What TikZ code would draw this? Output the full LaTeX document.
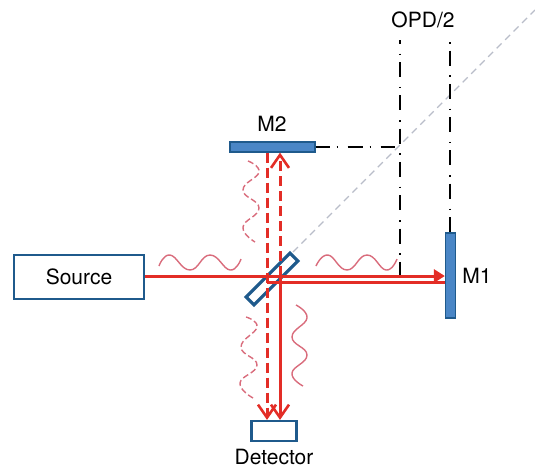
\documentclass[tikz,border=0pt]{standalone}
\usepackage{fontspec}
\setmainfont{TeX Gyre Heros}
\usepackage{tikz}
\usetikzlibrary{arrows.meta}
\definecolor{beamred}{HTML}{E32D26}
\definecolor{wavepink}{HTML}{D96C7C}
\definecolor{boxblue}{HTML}{1F5A8C}
\definecolor{mirrorblue}{HTML}{4A86C6}
\definecolor{axisgray}{HTML}{B9BDC9}
\tikzstyle{labeltext} = [inner sep = 0pt, font = \fontsize{21}{25}\selectfont, text = black]
\tikzstyle{outlinebox} = [rectangle, inner sep = 0pt, draw = boxblue, line width = 2.2pt, fill = white]
\tikzstyle{mirror} = [rectangle, inner sep = 0pt, draw = boxblue, line width = 1.2pt, fill = mirrorblue]
\tikzstyle{splitter} = [rectangle, inner sep = 0pt, minimum width = 62pt, minimum height = 11pt, draw = boxblue, line width = 3.2pt]
\tikzstyle{beam} = [draw = beamred, line width = 3pt]
\tikzstyle{beamdash} = [beam, dash pattern = on 10pt off 5pt]
\tikzstyle{openhead} = [-{Straight Barb[length = 13pt, width = 18pt, line width = 2.6pt]}]
\tikzstyle{solidhead} = [-{Triangle[length = 11pt, width = 13pt]}]
\tikzstyle{wave} = [draw = wavepink, line width = 1.4pt]
\tikzstyle{wavedash} = [wave, dash pattern = on 6pt off 3pt]
\tikzstyle{opdline} = [draw = black, line width = 1.6pt]
\tikzstyle{axisline} = [draw = axisgray, line width = 1.3pt, dash pattern = on 7pt off 5pt]

\begin{document}
\begin{tikzpicture}[x = 1pt, y = -1pt]
\useasboundingbox (0,0) rectangle (535,467);

\node(Source)[outlinebox, minimum width = 130pt, minimum height = 44pt] at (79,277) {};
\node(Detector)[outlinebox, minimum width = 45pt, minimum height = 20pt] at (274,431) {};
\node(Mtwo)[mirror, minimum width = 85pt, minimum height = 10pt] at (272.5,147) {};
\node(Mone)[mirror, minimum width = 10pt, minimum height = 85pt] at (450.5,275.5) {};
\node(Sourcetext)[labeltext] at (79,277) {Source};
\node(Detectortext)[labeltext] at (274,456.5) {Detector};
\node(Mtwotext)[labeltext] at (272,124) {M2};
\node(Monetext)[labeltext] at (477,276) {M1};
\node(Opdtext)[labeltext] at (423,20) {OPD/2};

\coordinate (axisend) at (535,10);
\coordinate (axisstart) at (293,252);
\coordinate (opdleft) at (400,40);
\coordinate (opdright) at (450,42);
\coordinate (opdcorner) at (395,147);
\coordinate (opdfoot) at (400,276);
\coordinate (inright) at (280,276);
\coordinate (inleft) at (267,282);

\draw [axisline] (axisstart) -- (axisend);
\node(Splitter)[splitter, rotate = 45] at (272,279) {};

\draw [opdline, dash pattern = on 15pt off 9.8pt on 1.5pt off 7pt, dash phase = 11.3pt] (opdleft) -- (opdfoot);
\draw [opdline, dash pattern = on 1.5pt off 7pt on 15pt off 9.8pt] (opdright) -- (opdright |- Mone.north);
\draw [opdline, dash pattern = on 15pt off 7pt on 1.5pt off 9.5pt, dash phase = 1pt] (Mtwo.east) -- (opdcorner);

\draw [beam] (Source.east |- opdfoot) -- (inright);
\draw [beam, solidhead] (inright) -- (Mone.west |- inright);
\draw [beam] (inleft) -- (Mone.west |- inleft);
\draw [beam, openhead] (inright) -- (inright |- Detector.north);
\draw [beamdash, openhead] (inright) -- (inright |- Mtwo.south);
\draw [beamdash, openhead] (inleft |- Mtwo.south) -- (inleft |- Detector.north);

\draw [wave] plot [smooth, tension = 0.8] coordinates {(159,266) (170,255) (190,270) (210,255) (230,270) (241,259)};
\draw [wave] plot [smooth, tension = 0.8] coordinates {(316,266) (328,255) (347,270) (367,255) (386,270) (397,259)};
\draw [wavedash] plot [smooth, tension = 0.8] coordinates {(248,161) (259,172) (243,190) (259,208) (243,227) (255,242)};
\draw [wavedash] plot [smooth, tension = 0.8] coordinates {(246,317) (257,327) (241,347) (257,365) (240,383) (253,398)};
\draw [wave] plot [smooth, tension = 0.8] coordinates {(296,305) (307,318) (292,337) (307,355) (292,373) (303,386)};

\end{tikzpicture}
\end{document}
